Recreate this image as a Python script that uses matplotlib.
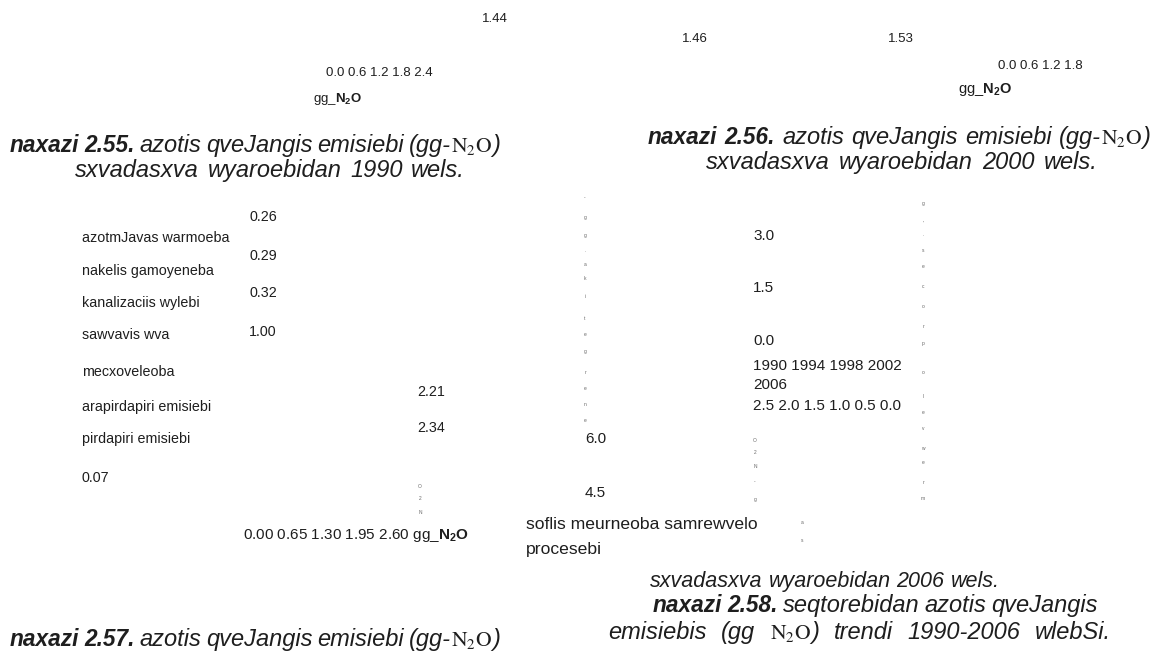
import matplotlib.pyplot as plt

plt.rcParams['font.family'] = ['Liberation Sans', 'DejaVu Sans']
plt.rcParams['mathtext.fontset'] = 'custom'
plt.rcParams['mathtext.rm'] = 'Liberation Sans'
plt.rcParams['mathtext.it'] = 'Liberation Sans:italic'
plt.rcParams['mathtext.bf'] = 'Liberation Sans:bold'

# --- values read from the page ---
fig55_values = [1.44]
fig55_ticks = [0.0, 0.6, 1.2, 1.8, 2.4]
fig56_values = [1.46, 1.53]
fig56_ticks = [0.0, 0.6, 1.2, 1.8]

fig57_labels = ['azotmJavas warmoeba', 'nakelis gamoyeneba', 'kanalizaciis wylebi',
                'sawvavis wva', 'mecxoveleoba', 'arapirdapiri emisiebi', 'pirdapiri emisiebi']
fig57_values = [0.26, 0.29, 0.32, 1.00, 2.21, 2.34, 0.07]
fig57_ticks = [0.00, 0.65, 1.30, 1.95, 2.60]

fig58_left_ticks = [6.0, 4.5]
fig58_mid_ticks = [3.0, 1.5, 0.0]
fig58_years = [1990, 1994, 1998, 2002, 2006]
fig58_right_ticks = [2.5, 2.0, 1.5, 1.0, 0.5, 0.0]
fig58_label = ['soflis meurneoba samrewvelo', 'procesebi']

# scattered single letters of rotated axis titles (top to bottom)
vert_a = '-gg.akitegrene'
vert_b = 'O2N-g'
vert_c = 'as'
vert_d = "g'.secorpolevwerm"
vert_e = 'O2N'

unit = 'gg_'
ink = '#1e1e1e'

fig = plt.figure(figsize=(11.58, 6.57), dpi=100)
ax = fig.add_axes([0, 0, 1, 1])
ax.set_xlim(0, 1158)
ax.set_ylim(657, 0)
ax.axis('off')
renderer = fig.canvas.get_renderer()

cap = 17
BI = dict(style='italic', weight='bold', fontsize=16.3)
IT = dict(style='italic')
N2O = (r'$\mathrm{N_2O}$', dict(style='italic', math_fontfamily='stix', fontsize=15.5))


def width(txt, **kw):
    t = ax.text(0, 0, txt, **kw)
    w = t.get_window_extent(renderer).width
    t.remove()
    return w


def justified(x0, x1, y, words, size):
    # words: list of words, each a list of (text, style) segments; spread over x0..x1
    drawn = []
    total = 0
    for word in words:
        segs = []
        for txt, kw in word:
            opts = {'fontsize': size, **kw}
            t = ax.text(0, y, txt, va='baseline', ha='left', color=ink, **opts)
            w = t.get_window_extent(renderer).width
            segs.append((t, w))
            total += w
        drawn.append(segs)
    sw = width('a a', fontsize=size, style='italic') - width('aa', fontsize=size, style='italic')
    gap = sw
    if x1 is not None and len(words) > 1:
        gap = min(max((x1 - x0 - total) / (len(words) - 1), sw * 0.6), sw * 2.2)
    x = x0
    for segs in drawn:
        for t, w in segs:
            t.set_x(x)
            x += w
        x += gap


def plain(x0, x1, y, text, size, style):
    justified(x0, x1, y, [[(w, style)] for w in text.split(' ')], size)


def num(v, d=1):
    return f'{v:.{d}f}'


def vertical(x, ys, chars):
    for c, y in zip(chars, ys):
        ax.text(x, y, c, fontsize=3.5, color='#666666', ha='center', va='center')


def caption_head(no):
    return [[('naxazi', BI)], [(no, BI)], [('azotis', IT)], [('qveJangis', IT)],
            [('emisiebi', IT)], [('(gg-', IT), N2O, (')', IT)]]


# --- figure 2.55 (top left) ---
ax.text(482, 22, num(fig55_values[0], 2), fontsize=9.5, color=ink)
ax.text(326, 76, ' '.join(num(v) for v in fig55_ticks), fontsize=9.5, color=ink)
ax.text(313, 102, unit + r'$\mathbf{N_2O}$', fontsize=9.5, color=ink)
justified(10, 500, 152, caption_head('2.55.'), cap)
plain(75, 465, 177, 'sxvadasxva wyaroebidan 1990 wels.', cap, IT)

# --- figure 2.56 (top right) ---
ax.text(682, 42, num(fig56_values[0], 2), fontsize=9.5, color=ink)
ax.text(888, 42, num(fig56_values[1], 2), fontsize=9.5, color=ink)
ax.text(998, 69, ' '.join(num(v) for v in fig56_ticks), fontsize=9.5, color=ink)
ax.text(958, 93, unit + r'$\mathbf{N_2O}$', fontsize=10.5, color=ink)
justified(648, 1150, 144, caption_head('2.56.'), cap)
plain(706, 1098, 169, 'sxvadasxva wyaroebidan 2000 wels.', cap, IT)

# --- figure 2.57 (bottom left) ---
label_y = [238, 271, 303, 335, 372, 407, 439]
for lab, y in zip(fig57_labels, label_y):
    ax.text(82, y + 4, lab, fontsize=10.3, color=ink)
value_pos = [(249, 217), (249, 256), (249, 293), (249, 332), (417, 392), (417, 428), (82, 478)]
for v, (x, y) in zip(fig57_values, value_pos):
    ax.text(x, y + 4, num(v, 2), fontsize=10.3, color=ink)
vertical(420, [487, 498, 513], vert_e)
ax.text(243, 539, ' '.join(num(v, 2) for v in fig57_ticks) + ' ' + unit + r'$\mathbf{N_2O}$',
        fontsize=11, color=ink)
justified(10, 500, 646, caption_head('2.57.'), cap)

# --- figure 2.58 (bottom right) ---
vertical(585, [198, 217, 235, 251, 264, 279, 297, 318, 334, 352, 373, 388, 405, 421], vert_a)
for v, y in zip(fig58_left_ticks, [438, 492]):
    ax.text(585, y + 5, num(v), fontsize=11, color=ink)
for v, y in zip(fig58_mid_ticks, [235, 287, 340]):
    ax.text(753, y + 5, num(v), fontsize=11, color=ink)
ax.text(753, 370, ' '.join(str(v) for v in fig58_years[:4]), fontsize=11, color=ink)
ax.text(753, 389, str(fig58_years[4]), fontsize=11, color=ink)
ax.text(753, 410, ' '.join(num(v) for v in fig58_right_ticks), fontsize=11, color=ink)
vertical(755, [440, 452, 467, 482, 499], vert_b)
vertical(802, [522, 540], vert_c)
vertical(923, [203, 223, 234, 250, 266, 287, 307, 327, 343, 372, 396, 412, 429, 448, 462, 483, 498],
         vert_d)
ax.text(526, 529, fig58_label[0], fontsize=12.6, color=ink)
ax.text(526, 554, fig58_label[1], fontsize=12.6, color=ink)

plain(650, None, 587, 'sxvadasxva wyaroebidan 2006 wels.', 15.5, IT)
justified(653, 1098, 612, [[('naxazi', BI)], [('2.58.', BI)], [('seqtorebidan', IT)],
                           [('azotis', IT)], [('qveJangis', IT)]], cap)
justified(608, 1125, 639, [[('emisiebis', IT)], [('(gg', IT)], [N2O, (')', IT)],
                           [('trendi', IT)], [('1990-2006', IT)], [('wlebSi.', IT)]], cap)

fig.savefig('out.png', dpi=100)
